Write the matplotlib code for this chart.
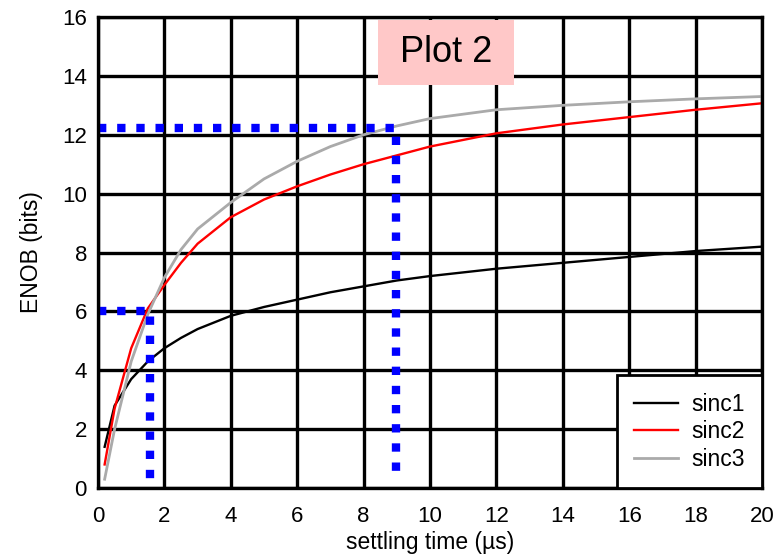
import matplotlib.pyplot as plt
from matplotlib.patches import Rectangle

plt.rcParams['font.family'] = ['Liberation Sans', 'DejaVu Sans']

# settling time (us)
t = [0.2, 0.5, 1, 1.5, 2, 2.5, 3, 4, 5, 6, 7, 8, 9, 10, 12, 14, 16, 18, 20]
sinc1 = [1.4, 2.8, 3.7, 4.3, 4.75, 5.1, 5.4, 5.85, 6.15, 6.4, 6.65, 6.85, 7.05, 7.2, 7.45, 7.65, 7.85, 8.05, 8.2]
sinc2 = [0.8, 2.7, 4.75, 6.1, 6.9, 7.65, 8.3, 9.2, 9.8, 10.25, 10.65, 11.0, 11.3, 11.6, 12.05, 12.35, 12.6, 12.85, 13.07]
sinc3 = [0.3, 2.0, 4.3, 5.9, 7.15, 8.1, 8.8, 9.7, 10.5, 11.1, 11.6, 12.0, 12.3, 12.55, 12.85, 13.0, 13.12, 13.22, 13.3]

# blue guide lines
guide_a_x = [0, 1.57, 1.57]
guide_a_y = [6, 6, 0]
guide_b_x = [0, 8.98, 8.98]
guide_b_y = [12.23, 12.23, 0.3]

fig = plt.figure(figsize=(7.84, 5.58), dpi=100)
ax = fig.add_axes([0.125, 0.1254, 0.847, 0.8441])

ax.set_xlim(0, 20)
ax.set_ylim(0, 16)
ax.set_xticks(range(0, 21, 2))
ax.set_yticks(range(0, 17, 2))
ax.grid(True, color='black', linewidth=2.4)
ax.set_axisbelow(True)
for s in ax.spines.values():
    s.set_linewidth(2.4)
ax.tick_params(axis='x', length=0, labelsize=16, pad=13)
ax.tick_params(axis='y', length=0, labelsize=16, pad=8)

ax.plot(t, sinc1, color='black', lw=1.7, label='sinc1')
ax.plot(t, sinc2, color='red', lw=1.7, label='sinc2')
ax.plot(t, sinc3, color='#aaaaaa', lw=2.0, label='sinc3')

dots = dict(color='blue', lw=6, linestyle=(0, (1, 1.3)), dash_capstyle='butt')
ax.plot(guide_a_x, guide_a_y, **dots)
ax.plot(guide_b_x, guide_b_y, **dots)

ax.set_xlabel('settling time (µs)', fontsize=16.5, labelpad=3)
ax.set_ylabel('ENOB (bits)', fontsize=16.5, labelpad=14)

leg = ax.legend(loc='lower right', fontsize=16.5, fancybox=False, framealpha=1,
                edgecolor='black', borderaxespad=0, handlelength=1.9,
                handletextpad=0.6, labelspacing=0.2, borderpad=0.75)
leg.get_frame().set_linewidth(2)

# title box
fig.patches.append(Rectangle((378 / 784, 1 - 85 / 558), 136 / 784, 65 / 558,
                             transform=fig.transFigure, facecolor='#ffc8c8',
                             edgecolor='none', zorder=5))
fig.text(446 / 784, 1 - 53 / 558, 'Plot 2', fontsize=26, ha='center', va='center', zorder=6)

fig.savefig('out.png', dpi=100)
